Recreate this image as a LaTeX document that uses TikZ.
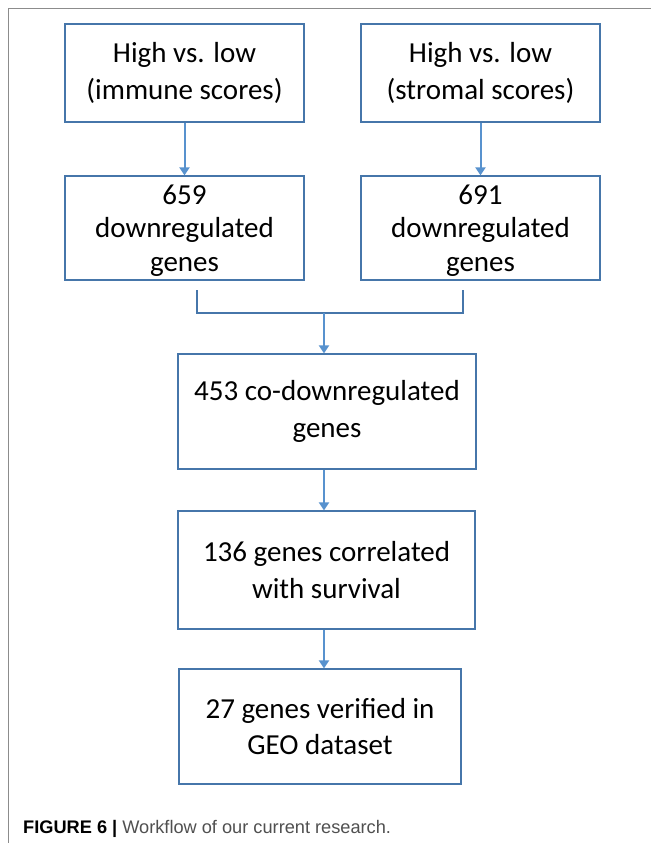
\documentclass[tikz,border=0pt]{standalone}
\usepackage{fontspec}
\setmainfont{Carlito}
\newfontfamily\capfont{Liberation Sans}
\usetikzlibrary{arrows.meta}
\definecolor{boxblue}{RGB}{70,118,170}
\definecolor{arrblue}{RGB}{88,146,206}
\definecolor{framegray}{RGB}{140,140,140}
\definecolor{capgray}{RGB}{80,80,80}
\tikzset{
  box/.style={draw=boxblue, line width=1.3pt, align=center, inner sep=0pt,
    font=\fontsize{29}{36.5}\selectfont, text=black},
  tightbox/.style={box, font=\fontsize{29}{33.5}\selectfont},
  arr/.style={draw=arrblue, line width=2pt, -{Triangle[width=10pt,length=8pt]}},
  brk/.style={draw=boxblue, line width=1.3pt},
}
\begin{document}
\begin{tikzpicture}[x=1pt,y=-1pt]
\useasboundingbox (0,0) rectangle (651,843);
\fill[white] (0,0) rectangle (651,843);
% frame
\draw[framegray, line width=1pt] (8,843) -- (8,9) -- (651,9);
% boxes
\node[box, minimum width=239pt, minimum height=98pt] (b1) at (184.5,73) {High vs. low\\(immune scores)};
\node[box, minimum width=239pt, minimum height=98pt] (b2) at (480.5,73) {High vs. low\\(stromal scores)};
\node[tightbox, minimum width=239pt, minimum height=104pt] (b3) at (184.5,228) {\rule{0pt}{24pt}659\\downregulated\\genes};
\node[tightbox, minimum width=239pt, minimum height=104pt] (b4) at (480.5,228) {\rule{0pt}{24pt}691\\downregulated\\genes};
\node[box, minimum width=298pt, minimum height=115pt] (b5) at (327,411.5) {453 co-downregulated\\genes};
\node[box, minimum width=297pt, minimum height=118pt] (b6) at (326.5,570) {136 genes correlated\\with survival};
\node[box, minimum width=282pt, minimum height=115pt] (b7) at (320,726.5) {27 genes verified in\\GEO dataset};
% connectors
\draw[arr] (b1.south) -- (b3.north);
\draw[arr] (b2.south) -- (b4.north);
\coordinate (bl) at (197,290);
\coordinate (br) at (463,290);
\coordinate (j) at (324,313);
\draw[brk] (bl) -- (bl |- j) -- (br |- j) -- (br);
\draw[arr] (j) -- (j |- b5.north);
\draw[arr] (b5.south -| j) -- (b6.north -| j);
\draw[arr] (b6.south -| j) -- (b7.north -| j);
% caption
\node[anchor=base west, inner sep=0pt, font=\capfont\fontsize{18.2}{21}\selectfont] (cap) at (23,833)
  {\textbf{\color{black}FIGURE 6 |} \color{capgray}Workflow of our current research.};
\end{tikzpicture}
\end{document}
